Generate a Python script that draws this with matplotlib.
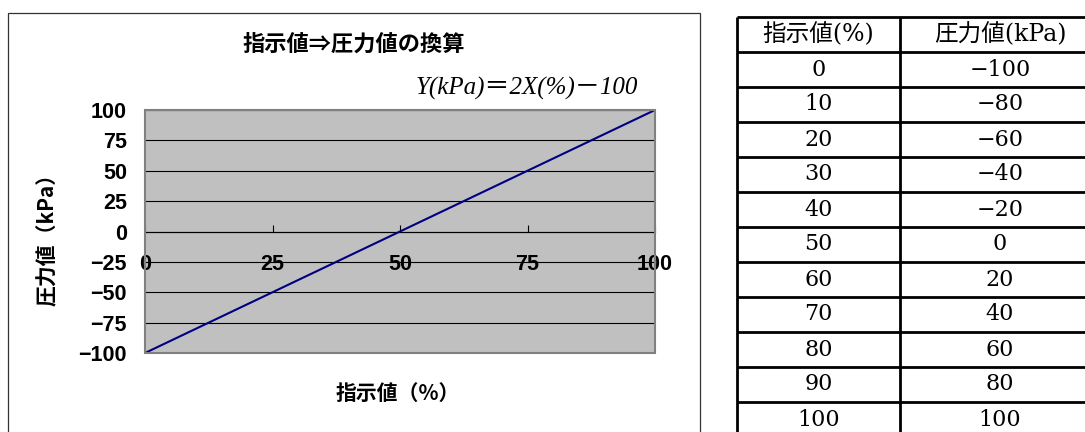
import matplotlib.pyplot as plt
from matplotlib.patches import Rectangle

# conversion table: indicator value (%) -> pressure (kPa)
pct = [0, 10, 20, 30, 40, 50, 60, 70, 80, 90, 100]
kpa = [-100, -80, -60, -40, -20, 0, 20, 40, 60, 80, 100]
col_headers = ['指示値(%)', '圧力値(kPa)']

x_ticks = [0, 25, 50, 75, 100]
y_ticks = [-100, -75, -50, -25, 0, 25, 50, 75, 100]

W, H = 1085, 432
jp = ['Noto Sans CJK JP', 'DejaVu Sans']
serif_jp = ['DejaVu Serif', 'Noto Sans CJK JP']


def box(x0, y0, x1, y1):
    # pixel box (top-left origin) -> figure fraction [l, b, w, h]
    return [x0 / W, 1 - y1 / H, (x1 - x0) / W, (y1 - y0) / H]


fig = plt.figure(figsize=(W / 100, H / 100), dpi=100)

# chart area frame
l, b, w, h = box(8, 13, 700, 445)
fig.patches.append(Rectangle((l, b), w, h, transform=fig.transFigure,
                             fill=False, edgecolor='#333333', lw=0.9))

ax = fig.add_axes(box(145, 110, 655, 353))
ax.set_facecolor('#c0c0c0')
ax.plot(pct, kpa, color='#000080', lw=1.5, zorder=3)
ax.set_xlim(0, 100)
ax.set_ylim(-100, 100)
ax.set_xticks(x_ticks)
ax.set_yticks(y_ticks)
ax.grid(axis='y', color='black', lw=0.8)
ax.set_axisbelow(True)

for s in ['top', 'left', 'right']:
    ax.spines[s].set_visible(False)
ax.spines['bottom'].set_position(('data', 0))
ax.spines['bottom'].set_color('black')
ax.spines['bottom'].set_linewidth(0.8)
ax.add_patch(Rectangle((0, 0), 1, 1, transform=ax.transAxes, fill=False,
                       edgecolor='#808080', lw=1.5, clip_on=False, zorder=4))

ax.tick_params(axis='x', direction='in', length=5, width=0.8, pad=16,
               labelsize=15.5)
ax.tick_params(axis='y', length=0, pad=13, labelsize=15.5)
for t in ax.get_xticklabels() + ax.get_yticklabels():
    t.set_fontfamily('Liberation Sans')
    t.set_fontweight('bold')

fig.text(354 / W, 1 - 44 / H, '指示値⇒圧力値の換算', family=jp,
         fontweight='bold', fontsize=16, ha='center', va='center')
fig.text(638 / W, 1 - 88 / H, 'Y(kPa)＝2X(%)－100',
         family=['Liberation Serif', 'Noto Sans CJK JP'], style='italic',
         fontsize=18, ha='right', va='center')
fig.text(398 / W, 1 - 393 / H, '指示値（%）', family=jp, fontweight='bold',
         fontsize=15, ha='center', va='center')
fig.text(47 / W, 1 - 234 / H, '圧力値（kPa）', family=jp, fontweight='bold',
         fontsize=15, rotation=90, ha='center', va='center')

# table on the right
head_h, row_h = 35, 35
axt = fig.add_axes(box(737, 17, 1100, H))
axt.set_xlim(0, 1)
axt.set_ylim((H - 17) / row_h, 0)
axt.axis('off')
split = (900 - 737) / (1100 - 737)
n_rows = len(pct) + 1
for k in range(n_rows + 1):
    axt.plot([0, 1], [k, k], color='black', lw=2, clip_on=False,
             solid_capstyle='butt')
for xv in [0, split]:
    axt.plot([xv, xv], [0, n_rows], color='black', lw=2, clip_on=False,
             solid_capstyle='butt')
centers = [split / 2, (split + 1) / 2]
for c, head in zip(centers, col_headers):
    axt.text(c, 0.5, head, family=serif_jp, fontsize=17, ha='center',
             va='center')
for i, (p, v) in enumerate(zip(pct, kpa)):
    axt.text(centers[0], i + 1.5, str(p), family='DejaVu Serif', fontsize=16,
             ha='center', va='center')
    axt.text(centers[1], i + 1.5, str(v).replace('-', '−'),
             family='DejaVu Serif', fontsize=16, ha='center', va='center')

fig.savefig('out.png', dpi=100)
